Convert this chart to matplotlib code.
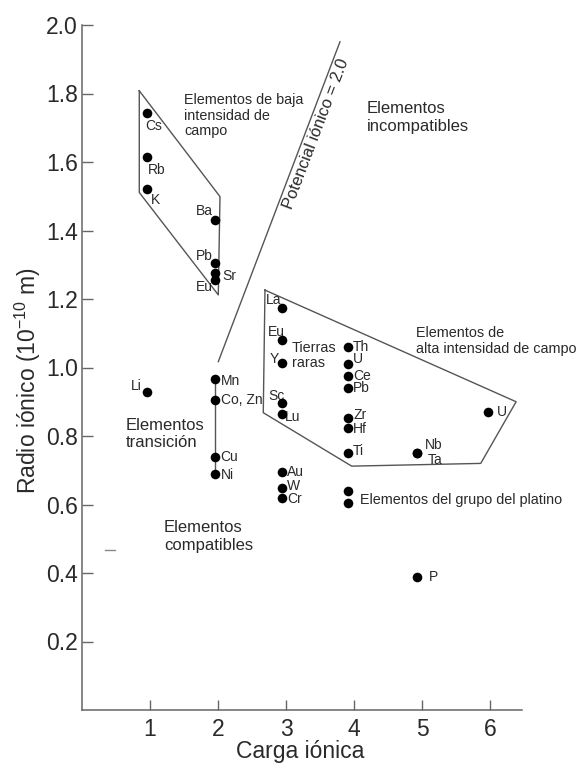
import matplotlib
matplotlib.use("Agg")
import matplotlib.pyplot as plt

plt.rcParams['font.family'] = ['Liberation Sans', 'DejaVu Sans']
plt.rcParams['mathtext.default'] = 'regular'

# ---------------- data ----------------
elements = ['Cs', 'Rb', 'K', 'Ba', 'Pb', 'Sr', 'Eu',
            'Li', 'Mn', 'Co, Zn', 'Cu', 'Ni',
            'La', 'Eu', 'Y', 'Sc', 'Lu', 'Au', 'W', 'Cr',
            'Th', 'U', 'Ce', 'Pb', 'Zr', 'Hf', 'Ti', '', '',
            'Nb', 'Ta', 'U', 'P']
charge = [0.96, 0.96, 0.96, 1.95, 1.95, 1.95, 1.95,
          0.96, 1.95, 1.95, 1.95, 1.95,
          2.94, 2.94, 2.94, 2.94, 2.94, 2.94, 2.94, 2.94,
          3.91, 3.91, 3.91, 3.91, 3.91, 3.91, 3.91, 3.91, 3.91,
          4.92, 4.92, 5.96, 4.93]
radius = [1.742, 1.615, 1.520, 1.431, 1.304, 1.275, 1.255,
          0.928, 0.966, 0.905, 0.740, 0.689,
          1.173, 1.080, 1.012, 0.895, 0.864, 0.696, 0.647, 0.620,
          1.059, 1.010, 0.975, 0.939, 0.852, 0.822, 0.751, 0.640, 0.605,
          0.751, 0.751, 0.871, 0.387]

# field outlines
lile_x = [0.843, 2.029, 2.004, 0.843, 0.843]
lile_y = [1.808, 1.499, 1.212, 1.511, 1.808]
hfse_x = [2.69, 6.38, 5.86, 3.964, 2.665, 2.69]
hfse_y = [1.226, 0.900, 0.720, 0.712, 0.868, 1.226]
potential_x = [2.004, 3.792]
potential_y = [1.017, 1.951]
transition_x = [1.955, 1.955]
transition_y = [0.966, 0.689]
dash_x = [0.34, 0.48]
dash_y = [0.467, 0.467]

x_ticks = [1, 2, 3, 4, 5, 6]
y_ticks = [0.2, 0.4, 0.6, 0.8, 1.0, 1.2, 1.4, 1.6, 1.8, 2.0]

# label placement (offset pixels, alignment)
label_layout = [(-2, -13, 'left'), (1, -13, 'left'), (4, -11, 'left'),
                (-2, 9, 'right'), (-2, 7, 'right'), (8, -3, 'left'), (-2, -7, 'right'),
                (-5, 6, 'right'), (6, -2, 'left'), (6, 0, 'left'), (6, 0, 'left'), (6, -1, 'left'),
                (-8, 8, 'center'), (-6, 8, 'center'), (-3, 4, 'right'), (-6, 7, 'center'),
                (3, -3, 'left'), (5, 0, 'left'), (5, 2, 'left'), (5, -1, 'left'),
                (5, 0, 'left'), (5, 5, 'left'), (5, 0, 'left'), (5, 0, 'left'),
                (5, 3, 'left'), (5, -1, 'left'), (5, 2, 'left'), (0, 0, 'left'), (0, 0, 'left'),
                (8, 8, 'left'), (11, -7, 'left'), (9, 0, 'left'), (11, 0, 'left')]

W, H = 579, 764
fig = plt.figure(figsize=(W / 100, H / 100), dpi=100)
fig.patch.set_facecolor('white')
ax = fig.add_axes([81.9 / W, 54 / H, 476.4 / W, 685 / H])
ax.set_xlim(0, 7.0)
ax.set_ylim(0, 2.0)

line_col = '#555555'
text_col = '#2a2a2a'

for s in ['top', 'right']:
    ax.spines[s].set_visible(False)
for s in ['left', 'bottom']:
    ax.spines[s].set_color('#666666')
    ax.spines[s].set_linewidth(1.1)
ax.spines['left'].set_bounds(0, 2.0)
ax.spines['bottom'].set_bounds(0, 6.46)

ax.set_xticks(x_ticks)
ax.set_xticklabels([str(t) for t in x_ticks])
ax.set_yticks(y_ticks)
ax.set_yticklabels(['%.1f' % t for t in y_ticks])
ax.tick_params(axis='x', direction='in', length=7, width=1, color='#666666',
               labelsize=16.5, labelcolor=text_col, pad=6)
ax.tick_params(axis='y', direction='in', length=8, width=1, color='#666666',
               labelsize=16.5, labelcolor=text_col, pad=3)

# outlines
ax.plot(lile_x, lile_y, color=line_col, lw=1.0, clip_on=False)
ax.plot(hfse_x, hfse_y, color=line_col, lw=1.0, clip_on=False)
ax.plot(potential_x, potential_y, color=line_col, lw=1.0, clip_on=False)
ax.plot(transition_x, transition_y, color=line_col, lw=1.0, clip_on=False)
ax.plot(dash_x, dash_y, color='#888888', lw=1.0, clip_on=False)

# points
ax.scatter(charge, radius, s=48, color='black', zorder=5, clip_on=False, linewidths=0)

for name, cx, cy, (dx, dy, ha) in zip(elements, charge, radius, label_layout):
    if name:
        ax.annotate(name, (cx, cy), xytext=(dx, dy), textcoords='offset pixels',
                    ha=ha, va='center', fontsize=10, color=text_col)

def px(xp, yp):
    return ((xp - 81.9) / 68.06, (710 - yp) / 342.5)

small = 10.4
big = 12
# va='baseline' on multi-line text anchors the baseline of the last line
ax.text(*px(184.3, 135), 'Elementos de baja\nintensidad de\ncampo', ha='left', va='baseline',
        fontsize=small, color=text_col, linespacing=1.13)
ax.text(*px(366.7, 131), 'Elementos\nincompatibles', ha='left', va='baseline',
        fontsize=big, color=text_col, linespacing=1.22)
ax.text(*px(415.7, 352.5), 'Elementos de\nalta intensidad de campo', ha='left', va='baseline',
        fontsize=small, color=text_col, linespacing=1.15)
ax.text(*px(291.7, 367), 'Tierras\nraras', ha='left', va='baseline',
        fontsize=small, color=text_col, linespacing=1.13)
ax.text(*px(126, 447), 'Elementos\ntransición', ha='left', va='baseline',
        fontsize=big, color=text_col, linespacing=1.17)
ax.text(*px(164, 550), 'Elementos\ncompatibles', ha='left', va='baseline',
        fontsize=big, color=text_col, linespacing=1.26)
ax.text(*px(360, 500), 'Elementos del grupo del platino', ha='left', va='center',
        fontsize=small, color=text_col)
ax.text(*px(315.8, 134.2), 'Potencial iónico = 2.0', ha='center', va='center',
        rotation=69.2, rotation_mode='anchor', fontsize=big, color=text_col)

fig.text(300 / W, 1 - 758 / H, 'Carga iónica', ha='center', va='baseline',
         fontsize=16.5, color=text_col)
fig.text(27.5 / W, 1 - 381 / H, 'Radio iónico (10$^{-10}$ m)', ha='center', va='center',
         rotation=90, fontsize=16.5, color=text_col)

fig.savefig('out.png', dpi=100, facecolor='white')
